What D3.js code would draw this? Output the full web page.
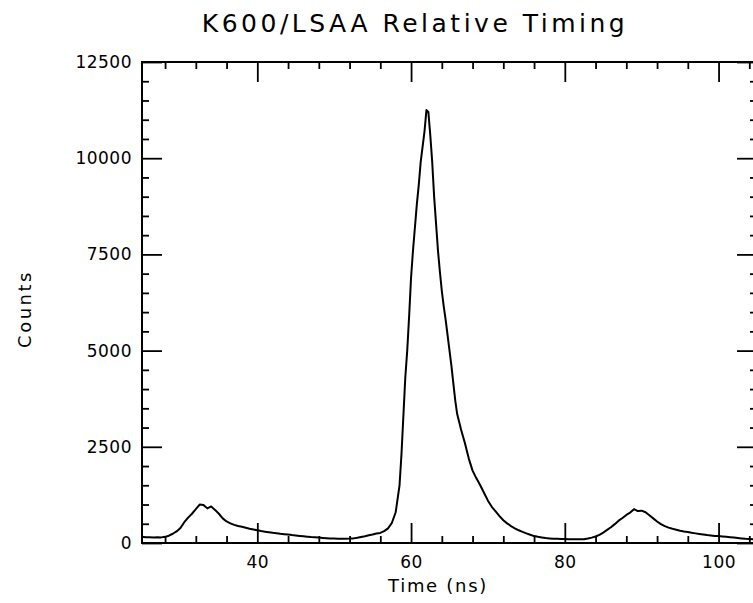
<!DOCTYPE html>
<html>
<head>
<meta charset="utf-8">
<script src="https://cdn.jsdelivr.net/npm/d3@7"></script>
<style>
  body { margin: 0; background: #fff; }
  text { font-family: "DejaVu Sans", sans-serif; fill: #000; }
</style>
</head>
<body>
<div id="chart"></div>
<script>
// Time bins (ns) and counts
const times = [
  25, 25.5, 26, 26.5, 27, 27.5, 28, 28.5, 29, 29.5,
  30, 30.5, 31, 31.5, 32, 32.5, 33, 33.5, 34, 34.5,
  35, 35.5, 36, 36.5, 37, 37.5, 38, 38.5, 39, 39.5,
  40, 40.5, 41, 41.5, 42, 42.5, 43, 43.5, 44, 44.5,
  45, 45.5, 46, 46.5, 47, 47.5, 48, 48.5, 49, 49.5,
  50, 50.5, 51, 51.5, 52, 52.5, 53, 53.5, 54, 54.5,
  55, 55.5, 56, 56.5, 57, 57.5, 58, 58.5, 58.75, 59,
  59.25, 59.5, 59.75, 60, 60.25, 60.5, 60.75, 61, 61.25, 61.5,
  61.75, 62, 62.25, 62.5, 62.75, 63, 63.25, 63.5, 63.75, 64,
  64.25, 64.5, 64.75, 65, 65.25, 65.5, 65.75, 66, 66.5, 67,
  67.5, 68, 68.5, 69, 69.5, 70, 70.5, 71, 71.5, 72,
  72.5, 73, 73.5, 74, 74.5, 75, 75.5, 76, 76.5, 77,
  77.5, 78, 78.5, 79, 79.5, 80, 80.5, 81, 81.5, 82,
  82.5, 83, 83.5, 84, 84.5, 85, 85.5, 86, 86.5, 87,
  87.5, 88, 88.5, 89, 89.5, 90, 90.5, 91, 91.5, 92,
  92.5, 93, 93.5, 94, 94.5, 95, 95.5, 96, 96.5, 97,
  97.5, 98, 98.5, 99, 99.5, 100, 100.5, 101, 101.5, 102,
  102.5, 103, 103.5, 104, 104.5, 105
];
const counts = [
  160, 150, 152, 145, 150, 146, 160, 190, 240, 300,
  390, 540, 660, 760, 880, 1000, 990, 900, 950, 860,
  760, 640, 560, 510, 470, 440, 420, 395, 370, 350,
  330, 310, 295, 280, 265, 255, 240, 228, 218, 205,
  195, 185, 175, 165, 155, 148, 140, 132, 126, 120,
  116, 112, 110, 112, 114, 120, 135, 155, 175, 200,
  220, 245, 262, 310, 380, 520, 800, 1500, 2300, 3300,
  4300, 5000, 5900, 6900, 7600, 8200, 8800, 9300, 9900, 10300,
  10700, 11250, 11200, 10600, 9900, 9000, 8300, 7600, 7050, 6550,
  6150, 5800, 5400, 5000, 4600, 4150, 3700, 3350, 2950, 2600,
  2200, 1880, 1680, 1500, 1300, 1100, 940, 820, 700, 590,
  510, 440, 380, 330, 290, 250, 215, 180, 160, 145,
  130, 120, 112, 108, 104, 102, 100, 100, 98, 100,
  100, 115, 140, 170, 210, 270, 340, 410, 490, 580,
  650, 730, 790, 880, 830, 840, 800, 720, 640, 560,
  490, 440, 400, 370, 345, 320, 300, 285, 265, 250,
  235, 220, 205, 195, 185, 180, 170, 160, 150, 140,
  128, 118, 108, 104, 100, 98
];

const xMajor = [40, 60, 80, 100];
const xMinor = [28, 32, 36, 44, 48, 52, 56, 64, 68, 72, 76, 84, 88, 92, 96, 104];
const yMajor = [0, 2500, 5000, 7500, 10000, 12500];
const yMinor = d3.range(500, 12500, 500).filter(v => v % 2500 !== 0);

const width = 753;
const height = 603;
const margin = { top: 62, right: -4, bottom: 60, left: 142 };
const innerW = width - margin.left - margin.right;
const innerH = height - margin.top - margin.bottom;

const svg = d3.select('#chart')
  .append('svg')
  .attr('width', width)
  .attr('height', height);

const chart = svg.append('g')
  .attr('transform', `translate(${margin.left},${margin.top})`);

const xScale = d3.scaleLinear().domain([25, 105]).range([0, innerW]);
const yScale = d3.scaleLinear().domain([0, 12500]).range([innerH, 0]);

// frame
chart.append('rect')
  .attr('x', 0).attr('y', 0)
  .attr('width', innerW).attr('height', innerH)
  .attr('fill', 'none')
  .attr('stroke', '#000')
  .attr('stroke-width', 2);

function styleAxis(g) {
  g.select('.domain').remove();
  g.selectAll('line').attr('stroke', '#000').attr('stroke-width', 1.8);
  g.selectAll('text')
    .style('font-size', '17px')
    .style('letter-spacing', '0.5px');
}

// bottom
chart.append('g')
  .attr('transform', `translate(0,${innerH})`)
  .call(d3.axisBottom(xScale).tickValues(xMajor).tickSize(-20).tickPadding(13).tickFormat(d3.format('d')))
  .call(styleAxis);
chart.append('g')
  .attr('transform', `translate(0,${innerH})`)
  .call(d3.axisBottom(xScale).tickValues(xMinor).tickSize(-7).tickFormat(''))
  .call(styleAxis);

// top
chart.append('g')
  .call(d3.axisTop(xScale).tickValues(xMajor).tickSize(-20).tickFormat(''))
  .call(styleAxis);
chart.append('g')
  .call(d3.axisTop(xScale).tickValues(xMinor).tickSize(-7).tickFormat(''))
  .call(styleAxis);

// left
chart.append('g')
  .call(d3.axisLeft(yScale).tickValues(yMajor).tickSize(-20).tickPadding(10).tickFormat(d3.format('d')))
  .call(styleAxis);
chart.append('g')
  .call(d3.axisLeft(yScale).tickValues(yMinor).tickSize(-7).tickFormat(''))
  .call(styleAxis);

// right
chart.append('g')
  .attr('transform', `translate(${innerW},0)`)
  .call(d3.axisRight(yScale).tickValues(yMajor).tickSize(-20).tickFormat(''))
  .call(styleAxis);
chart.append('g')
  .attr('transform', `translate(${innerW},0)`)
  .call(d3.axisRight(yScale).tickValues(yMinor).tickSize(-7).tickFormat(''))
  .call(styleAxis);

// curve
const line = d3.line()
  .x((d, i) => xScale(times[i]))
  .y(d => yScale(d));

chart.append('path')
  .datum(counts)
  .attr('d', line)
  .attr('fill', 'none')
  .attr('stroke', '#000')
  .attr('stroke-width', 2)
  .attr('stroke-linejoin', 'round');

// title and axis labels
svg.append('text')
  .attr('x', 415)
  .attr('y', 32)
  .attr('text-anchor', 'middle')
  .style('font-size', '25px')
  .style('letter-spacing', '3.5px')
  .text('K600/LSAA Relative Timing');

svg.append('text')
  .attr('x', 438)
  .attr('y', 592)
  .attr('text-anchor', 'middle')
  .style('font-size', '18px')
  .style('letter-spacing', '1.7px')
  .text('Time (ns)');

svg.append('text')
  .attr('transform', 'translate(31,309) rotate(-90)')
  .attr('text-anchor', 'middle')
  .style('font-size', '18px')
  .style('letter-spacing', '2.5px')
  .text('Counts');
</script>
</body>
</html>
